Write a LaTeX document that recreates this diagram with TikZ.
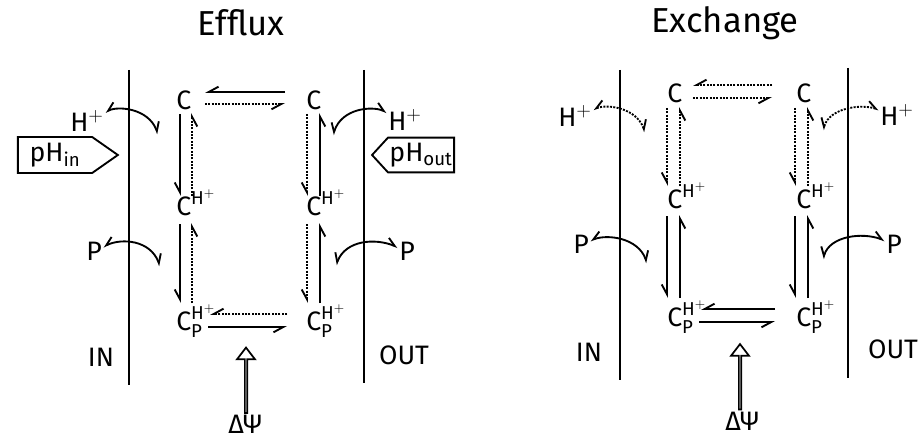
\documentclass[tikz,border=0pt]{standalone}
\usepackage{amsmath}
\usepackage{fontspec}
\setmainfont{Fira Sans}
\usetikzlibrary{arrows.meta,positioning,shapes.symbols,shapes.arrows}

\begin{document}
\begin{tikzpicture}[
    x=0.75pt,y=-0.75pt,
    ttl/.style={font=\fontsize{26}{30}\selectfont},
    lbl/.style={font=\fontsize{20}{24}\selectfont,inner sep=1pt},
    cst/.style={lbl,anchor=base west,inner sep=0pt},
    wall/.style={line width=1.8pt},
    hp/.style={-{Straight Barb[right,length=2.6mm,width=2.8mm]},line width=1.4pt},
    hpd/.style={hp,dash pattern=on 1.5pt off 1pt},
    cvl/.style={{Straight Barb[left,length=2.2mm,width=2.8mm]}-{Straight Barb[right,length=2.2mm,width=2.8mm]},line width=1.4pt},
    cvr/.style={{Straight Barb[right,length=2.2mm,width=2.8mm]}-{Straight Barb[left,length=2.2mm,width=2.8mm]},line width=1.4pt},
    dots/.style={dash pattern=on 1.5pt off 1pt},
    phbox/.style={signal,draw,line width=1.4pt,lbl,inner sep=0pt,minimum height=27pt},
    psi/.style={single arrow,draw,line width=1.3pt,rotate=90,inner sep=0pt,minimum width=13.5pt,
      single arrow head extend=4.5pt,single arrow tip angle=75,minimum height=49pt}
  ]
  \useasboundingbox (0,0) rectangle (919,442);

  % Efflux
  \node[ttl] (tEff) at (241,23) {Efflux};
  \draw[wall] (129,70) -- (129,385);
  \draw[wall] (364,70) -- (364,383);
  \node[cst] (eTL) at (176,110) {C};
  \node[cst] (eTR) at (306,110) {C};
  \node[cst] (eML) at (176,215) {C$^{\text{H}^{+}}$};
  \node[cst] (eMR) at (306,215) {C$^{\text{H}^{+}}$};
  \node[cst] (eBL) at (176,330) {C$^{\text{H}^{+}}_{\text{P}}$};
  \node[cst] (eBR) at (306,330) {C$^{\text{H}^{+}}_{\text{P}}$};
  \draw[hp] ([shift={(-21,-18)}]eTR.base west) -- ([shift={(29,-18)}]eTL.base west);
  \draw[hpd] ([shift={(29,-6)}]eTL.base west) -- ([shift={(-21,-6)}]eTR.base west);
  \draw[hp] ([shift={(4,4)}]eTL.base west) -- ([shift={(4,-19)}]eML.base west);
  \draw[hpd] ([shift={(16,-19)}]eML.base west) -- ([shift={(16,3)}]eTL.base west);
  \draw[hp] ([shift={(4,9)}]eML.base west) -- ([shift={(4,-27)}]eBL.base west);
  \draw[hpd] ([shift={(16,-27)}]eBL.base west) -- ([shift={(16,8)}]eML.base west);
  \draw[hpd] ([shift={(1,4)}]eTR.base west) -- ([shift={(1,-19)}]eMR.base west);
  \draw[hp] ([shift={(14,-19)}]eMR.base west) -- ([shift={(14,3)}]eTR.base west);
  \draw[hpd] ([shift={(1,9)}]eMR.base west) -- ([shift={(1,-27)}]eBR.base west);
  \draw[hp] ([shift={(14,-27)}]eBR.base west) -- ([shift={(14,8)}]eMR.base west);
  \draw[hpd] ([shift={(-19,-16)}]eBR.base west) -- ([shift={(34,-16)}]eBL.base west);
  \draw[hp] ([shift={(32,-3)}]eBL.base west) -- ([shift={(-19,-3)}]eBR.base west);
  \node[lbl] (eHl) at (87,121) {H$^{+}$};
  \node[lbl] (eHr) at (405,120) {H$^{+}$};
  \node[lbl] (ePl) at (94,251) {P};
  \node[lbl] (ePr) at (407,251) {P};
  \coordinate (eHlc) at (158,134);
  \coordinate (eHrc) at (333,135);
  \coordinate (ePlc) at (160,266);
  \coordinate (ePrc) at (336,265);
  \draw[cvl] (eHlc) .. controls (148,108) and (118,106) .. (eHl);
  \draw[cvr] (eHrc) .. controls (342,108) and (372,106) .. (eHr);
  \draw[cvl] (ePlc) .. controls (150,240) and (122,238) .. (ePl);
  \draw[cvr] (ePrc) .. controls (346,240) and (375,238) .. (ePr);
  \node[phbox,signal to=east,signal pointer angle=70,minimum width=75pt] (phin) at (55,155) {pH$_{\text{in}}$};
  \node[phbox,signal to=west,signal pointer angle=95,minimum width=61.5pt,minimum height=26pt] (phout) at (421,155) {pH$_{\text{out}}$};
  \node[lbl] (eIn) at (101,357) {IN};
  \node[lbl] (eOut) at (404,355) {OUT};
  \node[psi] (eArr) at (246,381) {};
  \node[lbl,anchor=base,inner sep=0pt] (ePsi) at (245,433) {ΔΨ};

  % Exchange
  \node[ttl] (tExc) at (725,23) {Exchange};
  \draw[wall] (620,70) -- (620,380);
  \draw[wall] (848,68) -- (848,378);
  \node[cst] (xTL) at (667,103) {C};
  \node[cst] (xTR) at (796,103) {C};
  \node[cst] (xML) at (667,208) {C$^{\text{H}^{+}}$};
  \node[cst] (xMR) at (796,208) {C$^{\text{H}^{+}}$};
  \node[cst] (xBL) at (667,326) {C$^{\text{H}^{+}}_{\text{P}}$};
  \node[cst] (xBR) at (796,326) {C$^{\text{H}^{+}}_{\text{P}}$};
  \draw[hpd] ([shift={(-24,-18)}]xTR.base west) -- ([shift={(26,-18)}]xTL.base west);
  \draw[hpd] ([shift={(26,-5)}]xTL.base west) -- ([shift={(-24,-5)}]xTR.base west);
  \draw[hpd] ([shift={(0,5)}]xTL.base west) -- ([shift={(0,-22)}]xML.base west);
  \draw[hpd] ([shift={(13,-22)}]xML.base west) -- ([shift={(13,4)}]xTL.base west);
  \draw[hp] ([shift={(0,8)}]xML.base west) -- ([shift={(0,-28)}]xBL.base west);
  \draw[hp] ([shift={(13,-28)}]xBL.base west) -- ([shift={(13,7)}]xML.base west);
  \draw[hpd] ([shift={(-1,5)}]xTR.base west) -- ([shift={(-1,-22)}]xMR.base west);
  \draw[hpd] ([shift={(12,-22)}]xMR.base west) -- ([shift={(12,4)}]xTR.base west);
  \draw[hp] ([shift={(-1,8)}]xMR.base west) -- ([shift={(-1,-28)}]xBR.base west);
  \draw[hp] ([shift={(12,-28)}]xBR.base west) -- ([shift={(12,7)}]xMR.base west);
  \draw[hp] ([shift={(-21,-17)}]xBR.base west) -- ([shift={(34,-17)}]xBL.base west);
  \draw[hp] ([shift={(32,-4)}]xBL.base west) -- ([shift={(-21,-4)}]xBR.base west);
  \node[lbl] (xHl) at (575,116) {H$^{+}$};
  \node[lbl] (xHr) at (897,115) {H$^{+}$};
  \node[lbl] (xPl) at (581,244) {P};
  \node[lbl] (xPr) at (894,244) {P};
  \coordinate (xHlc) at (645,132);
  \coordinate (xHrc) at (823,130);
  \coordinate (xPlc) at (647,263);
  \coordinate (xPrc) at (823,259);
  \draw[cvl,dots] (xHlc) .. controls (636,108) and (608,104) .. (xHl);
  \draw[cvr,dots] (xHrc) .. controls (830,108) and (860,104) .. (xHr);
  \draw[cvl] (xPlc) .. controls (638,238) and (608,234) .. (xPl);
  \draw[cvr] (xPrc) .. controls (830,236) and (862,232) .. (xPr);
  \node[lbl] (xIn) at (589,352) {IN};
  \node[lbl] (xOut) at (893,349) {OUT};
  \node[psi] (xArr) at (740,377.5) {};
  \node[lbl,anchor=base,inner sep=0pt] (xPsi) at (742,430) {ΔΨ};
\end{tikzpicture}
\end{document}
